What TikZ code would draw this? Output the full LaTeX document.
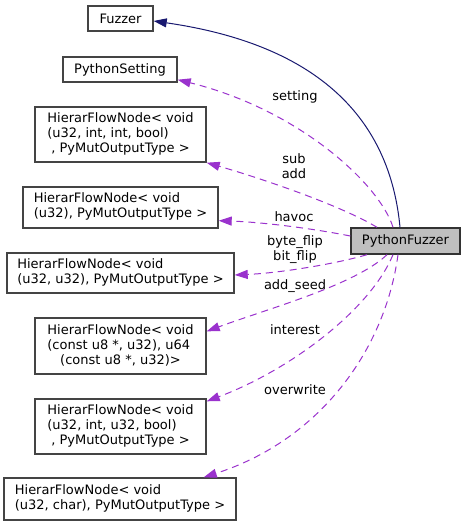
\documentclass[tikz,border=0pt]{standalone}
\usepackage{fontspec}
\setmainfont{DejaVu Sans}
\usetikzlibrary{arrows.meta}
\definecolor{boxgray}{HTML}{444444}
\definecolor{navyline}{RGB}{25,25,112}
\definecolor{orchid}{RGB}{154,50,205}
\newcommand{\midline}[1]{\multicolumn{1}{@{}c@{}}{#1}}

\begin{document}
\begin{tikzpicture}[x=1pt,y=-1pt,
  font=\fontsize{13}{15}\selectfont,
  cls/.style={draw=boxgray, fill=white, inner sep=0pt, line width=1.4pt},
  self/.style={draw=black!80, fill=black!25, inner sep=0pt, line width=1.4pt},
  inherit/.style={navyline, line width=1pt, -{Triangle[length=13pt,width=9pt]}},
  uses/.style={orchid, line width=1pt, dash pattern=on 7pt off 5pt,
    -{Triangle[length=13pt,width=9pt]}},
  lbl/.style={align=center, inner sep=0pt}
]
\useasboundingbox (0,0) rectangle (465,526);

% Classes
\node[cls, minimum width=65pt, minimum height=25pt] (fuz) at (120.5,18.5) {Fuzzer};
\node[cls, minimum width=114pt, minimum height=25pt] (set) at (120,69.5) {PythonSetting};
\node[cls, minimum width=171pt, minimum height=55pt] (hA) at (120.5,134.5)
  {\begin{tabular}{@{}l@{}}HierarFlowNode< void\\(u32, int, int, bool)\\\midline{, PyMutOutputType >}\end{tabular}};
\node[cls, minimum width=195pt, minimum height=41pt] (hB) at (120.5,207.5)
  {\begin{tabular}{@{}l@{}}HierarFlowNode< void\\(u32), PyMutOutputType >\end{tabular}};
\node[cls, minimum width=227pt, minimum height=40pt] (hC) at (120.5,273)
  {\begin{tabular}{@{}l@{}}HierarFlowNode< void\\(u32, u32), PyMutOutputType >\end{tabular}};
\node[cls, minimum width=171pt, minimum height=56pt] (hD) at (120.5,346)
  {\begin{tabular}{@{}l@{}}HierarFlowNode< void\\(const u8 *, u32), u64\\\midline{(const u8 *, u32)>}\end{tabular}};
\node[cls, minimum width=171pt, minimum height=55pt] (hE) at (120.5,426.5)
  {\begin{tabular}{@{}l@{}}HierarFlowNode< void\\(u32, int, u32, bool)\\\midline{, PyMutOutputType >}\end{tabular}};
\node[cls, minimum width=232pt, minimum height=42pt] (hF) at (120,499)
  {\begin{tabular}{@{}l@{}}HierarFlowNode< void\\(u32, char), PyMutOutputType >\end{tabular}};

% Main class
\node[self, minimum width=109pt, minimum height=26pt] (pf) at (405.5,241) {PythonFuzzer};

% Inheritance
\draw[inherit] ([xshift=-5.5pt]pf.north) .. controls (390,120) and (320,45) .. ([yshift=-2.5pt]fuz.east);

% Usage
\draw[uses] ([xshift=-12.5pt]pf.north) .. controls (380,185) and (300,110) .. ([yshift=3pt]set.south east);
\draw[uses] ([xshift=-28.5pt]pf.north) .. controls (340,205) and (260,178) .. (hA.south east);
\draw[uses] ([yshift=5pt]pf.west) .. controls (310,228) and (260,222) .. ([yshift=8pt]hB.south east);
\draw[uses] ([xshift=-38.5pt]pf.south) .. controls (335,264) and (280,273) .. ([yshift=-2pt]hC.east);
\draw[uses] ([xshift=-18.5pt]pf.south) .. controls (355,285) and (270,308) .. ([yshift=-14pt]hD.north east);
\draw[uses] ([xshift=-12.5pt]pf.south) .. controls (370,310) and (290,370) .. ([yshift=-3pt]hE.north east);
\draw[uses] ([xshift=-7.5pt]pf.south) .. controls (385,350) and (320,440) .. ([xshift=-33pt]hF.north east);

% Labels
\node[lbl] (lset) at (295,97) {setting};
\node[lbl] (lsub) at (294,166) {sub\\add};
\node[lbl] (lhav) at (294,217) {havoc};
\node[lbl] (lflip) at (295,250) {byte\_flip\\bit\_flip};
\node[lbl] (lseed) at (295,286) {add\_seed};
\node[lbl] (lint) at (295,330) {interest};
\node[lbl] (lover) at (295,390) {overwrite};

\end{tikzpicture}
\end{document}
